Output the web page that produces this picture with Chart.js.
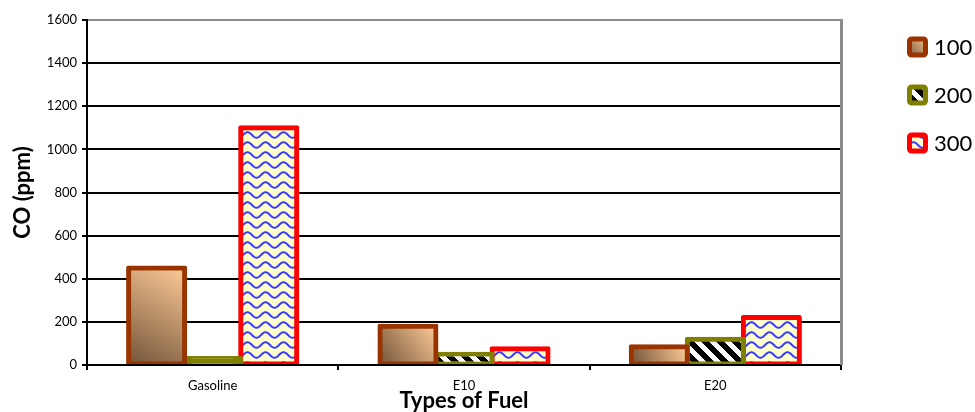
<!DOCTYPE html>
<html>
<head>
<meta charset="utf-8">
<script src="https://cdn.jsdelivr.net/npm/chart.js@4.4.1/dist/chart.umd.min.js"></script>
<style>
  html, body { margin: 0; padding: 0; background: #ffffff; }
  canvas { display: block; }
</style>
</head>
<body>
<canvas id="chart" width="975" height="412"></canvas>
<script>
// Fuel categories and CO readings (ppm) for each series
const fuelTypes = ['Gasoline', 'E10', 'E20'];
const seriesNames = ['100', '200', '300'];
const co100 = [450, 180, 85];
const co200 = [30, 50, 120];
const co300 = [1100, 75, 220];
const yMin = 0;
const yMax = 1600;
const yStep = 200;

const FONT = "Lato, 'Liberation Sans', sans-serif";
const CATEGORY_PCT = 0.669;
const BORDER = 5;

// Diagonal black/white stripes ("\" direction)
function stripePattern() {
  const s = 15;
  const c = document.createElement('canvas');
  c.width = s; c.height = s;
  const g = c.getContext('2d');
  const img = g.createImageData(s, s);
  for (let y = 0; y < s; y++) {
    for (let x = 0; x < s; x++) {
      const d = (((x - y) % s) + s) % s;
      const v = d < s / 2 ? 0 : 255;
      const k = (y * s + x) * 4;
      img.data[k] = v; img.data[k + 1] = v; img.data[k + 2] = v; img.data[k + 3] = 255;
    }
  }
  g.putImageData(img, 0, 0);
  return g.createPattern(c, 'repeat');
}

// Blue wavy lines on pale yellow
function wavePattern() {
  const w = 18, h = 10;
  const c = document.createElement('canvas');
  c.width = w; c.height = h;
  const g = c.getContext('2d');
  g.fillStyle = '#ffffcc';
  g.fillRect(0, 0, w, h);
  g.strokeStyle = '#3b3bff';
  g.lineWidth = 2;
  g.beginPath();
  for (let x = -1; x <= w + 1; x += 0.5) {
    const y = 5 + 2.8 * Math.sin((2 * Math.PI * x) / w);
    if (x === -1) g.moveTo(x, y); else g.lineTo(x, y);
  }
  g.stroke();
  return g.createPattern(c, 'repeat');
}

const stripes = stripePattern();
const waves = wavePattern();
const borderColors = ['#993300', '#808000', '#ff0000'];

function brownGradientBox(g, left, top, right, bottom) {
  const grad = g.createLinearGradient(left, bottom, right, top);
  grad.addColorStop(0, '#725438');
  grad.addColorStop(1, '#fdca97');
  return grad;
}

// Bar geometry from the scales, used for per-bar fills
function barBox(ctx) {
  const chart = ctx.chart;
  const xs = chart.scales.x, ys = chart.scales.y;
  const n = chart.data.datasets.length;
  const bw = (xs.width / fuelTypes.length) * CATEGORY_PCT / n;
  const cx = xs.getPixelForValue(ctx.dataIndex);
  const left = cx - bw * n / 2 + ctx.datasetIndex * bw;
  return { left, right: left + bw, top: ys.getPixelForValue(ctx.raw), bottom: ys.getPixelForValue(0) };
}

// Bars too short to show their fill are drawn in the outline colour
function fillFor(fill) {
  return ctx => {
    if (!ctx.chart.chartArea || ctx.type !== 'data') return borderColors[ctx.datasetIndex];
    const b = barBox(ctx);
    if (b.bottom - b.top < 8) return borderColors[ctx.datasetIndex];
    return typeof fill === 'function' ? fill(ctx.chart.ctx, b) : fill;
  };
}

const legendFills = [
  (g, l, t, r, b) => brownGradientBox(g, l, t, r, b),
  () => stripes,
  () => waves
];

// Legend on the right, drawn from the datasets
const sideLegend = {
  id: 'sideLegend',
  afterDraw(chart) {
    const g = chart.ctx;
    const x = 907, size = 21, firstY = 47, gap = 48;
    chart.data.datasets.forEach((ds, i) => {
      const cy = firstY + i * gap;
      const t = cy - size / 2;
      g.save();
      g.beginPath();
      g.roundRect(x + 2.5, t + 2.5, size - 5, size - 5, 2);
      g.fillStyle = legendFills[i](g, x, t, x + size, t + size);
      g.fill();
      g.lineWidth = 5;
      g.strokeStyle = ds.borderColor;
      g.lineJoin = 'round';
      g.stroke();
      g.fillStyle = '#000';
      g.font = '22px ' + FONT;
      g.textBaseline = 'middle';
      g.textAlign = 'left';
      g.fillText(ds.label, x + size + 6, cy + 1);
      g.restore();
    });
  }
};

// Grey right-hand edge of the plot area
const plotEdge = {
  id: 'plotEdge',
  beforeDatasetsDraw(chart) {
    const a = chart.chartArea;
    const g = chart.ctx;
    g.save();
    g.strokeStyle = '#8c8c8c';
    g.lineWidth = 3;
    g.beginPath();
    g.moveTo(a.right + 0.5, a.top - 1);
    g.lineTo(a.right + 0.5, a.bottom);
    g.stroke();
    g.restore();
  }
};

new Chart(document.getElementById('chart'), {
  type: 'bar',
  data: {
    labels: fuelTypes,
    datasets: [
      {
        label: seriesNames[0], data: co100, borderColor: borderColors[0],
        backgroundColor: fillFor((g, b) => brownGradientBox(g, b.left, b.top, b.right, b.bottom))
      },
      { label: seriesNames[1], data: co200, borderColor: borderColors[1], backgroundColor: fillFor(stripes) },
      { label: seriesNames[2], data: co300, borderColor: borderColors[2], backgroundColor: fillFor(waves) }
    ]
  },
  options: {
    responsive: false,
    animation: false,
    layout: { padding: { left: 0, right: 134, top: 20, bottom: 0 } },
    datasets: {
      bar: {
        categoryPercentage: CATEGORY_PCT,
        barPercentage: 1,
        borderWidth: BORDER,
        borderSkipped: false,
        borderRadius: 2,
        // outline straddles the bar edge
        inflateAmount: BORDER / 2,
        clip: { left: 10, right: 10, top: 10, bottom: -1 }
      }
    },
    plugins: {
      legend: { display: false },
      tooltip: { enabled: false }
    },
    scales: {
      x: {
        afterFit(scale) { scale.height = 47; },
        grid: {
          display: true,
          drawOnChartArea: false,
          drawTicks: true,
          tickLength: 5,
          color: '#000',
          lineWidth: 2
        },
        border: { display: true, color: '#000', width: 2 },
        ticks: { color: '#000', font: { family: FONT, size: 13 }, padding: 8 },
        title: {
          display: true,
          text: 'Types of Fuel',
          color: '#000',
          font: { family: FONT, size: 22, weight: 'bold', lineHeight: 1 },
          padding: { top: 0, bottom: 0 }
        }
      },
      y: {
        min: yMin,
        max: yMax,
        afterFit(scale) { scale.width = 87; },
        ticks: {
          stepSize: yStep,
          color: '#000',
          font: { family: FONT, size: 13 },
          padding: 5,
          callback: v => String(v)
        },
        grid: {
          color: c => (c.tick && c.tick.value === yMax ? '#8c8c8c' : '#000'),
          lineWidth: 2,
          tickLength: 5,
          tickColor: '#000'
        },
        border: { display: true, color: '#000', width: 2 },
        title: {
          display: true,
          text: 'CO (ppm)',
          color: '#000',
          font: { family: FONT, size: 22, weight: 'bold', lineHeight: 1 },
          padding: { top: 12, bottom: 0 }
        }
      }
    }
  },
  plugins: [plotEdge, sideLegend]
});
</script>
</body>
</html>
